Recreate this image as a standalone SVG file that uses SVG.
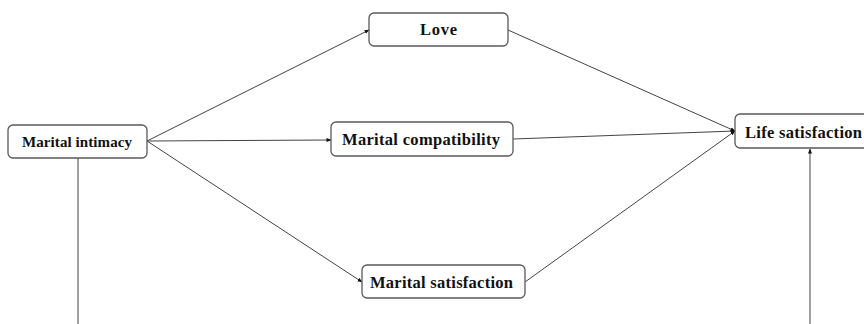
<svg xmlns="http://www.w3.org/2000/svg" width="864" height="324" viewBox="0 0 864 324">
<style>
.box{fill:#fff;stroke:#595959;stroke-width:1.3}
.lbl{font-family:"Liberation Serif",serif;font-weight:bold;font-size:16.5px;fill:#111;text-anchor:middle}
.sm{font-size:15px}
.c{stroke:#444;stroke-width:1;fill:none}
</style>
<defs>
<marker id="a" viewBox="0 0 10 10" refX="9" refY="5" markerWidth="5" markerHeight="5" orient="auto" markerUnits="userSpaceOnUse"><path d="M0,1 L10,5 L0,9 z" fill="#111"/></marker>
</defs>
<rect width="864" height="324" fill="#fff"/>
<g id="connectors">
<line class="c" x1="147" y1="141" x2="369" y2="30" marker-end="url(#a)"/>
<line class="c" x1="147" y1="141" x2="331" y2="140" marker-end="url(#a)"/>
<line class="c" x1="147" y1="141" x2="362" y2="282" marker-end="url(#a)"/>
<line class="c" x1="508" y1="30" x2="735" y2="131" marker-end="url(#a)"/>
<line class="c" x1="513" y1="139" x2="735" y2="131" marker-end="url(#a)"/>
<line class="c" x1="525" y1="282" x2="735" y2="131" marker-end="url(#a)"/>
<line class="c" x1="78" y1="158" x2="78" y2="324"/>
<line class="c" x1="810" y1="324" x2="810" y2="149" marker-end="url(#a)"/>
</g>
<g id="marital-intimacy">
<rect class="box" x="8" y="125" width="139" height="33" rx="5"/>
<text class="lbl sm" x="77" y="146.5" textLength="110" lengthAdjust="spacing">Marital intimacy</text>
</g>
<g id="love">
<rect class="box" x="369" y="13" width="139" height="33" rx="5"/>
<text class="lbl" x="438.5" y="35" textLength="37" lengthAdjust="spacing">Love</text>
</g>
<g id="marital-compatibility">
<rect class="box" x="331" y="122" width="182" height="34" rx="5"/>
<text class="lbl" x="421" y="145" textLength="158" lengthAdjust="spacing">Marital compatibility</text>
</g>
<g id="marital-satisfaction">
<rect class="box" x="362" y="265" width="163" height="33" rx="5"/>
<text class="lbl" x="441.5" y="287.5" textLength="143" lengthAdjust="spacing">Marital satisfaction</text>
</g>
<g id="life-satisfaction">
<rect class="box" x="735" y="114" width="136" height="34" rx="5"/>
<text class="lbl" x="803.5" y="137.5" textLength="117" lengthAdjust="spacing">Life satisfaction</text>
</g>
</svg>
